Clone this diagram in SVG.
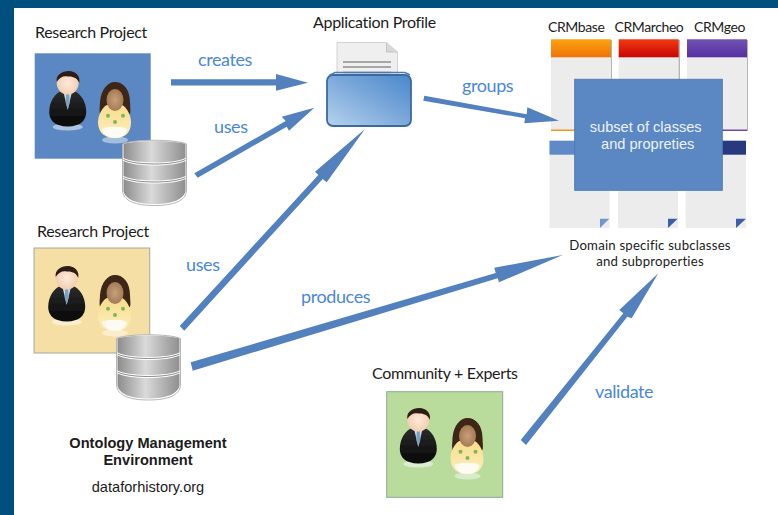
<svg xmlns="http://www.w3.org/2000/svg" width="778" height="515" viewBox="0 0 778 515">
<style>
.lb{font-family:"Lato","Noto Sans",sans-serif;font-size:16px;letter-spacing:-.32px;fill:#1c1c1c}
.sm{font-size:14px;letter-spacing:-.4px}
.dm{font-size:13.200px;letter-spacing:.2px}
.bl{font-family:"Lato","Noto Sans",sans-serif;font-size:18px;letter-spacing:-.4px;fill:#4a88d6}
.ar{font-family:"Liberation Sans",Arial,sans-serif;fill:#1c1c1c}
.arrow{fill:#5281bd}
.card{fill:#ececec}
</style>
<defs>
<filter id="soft" x="-10%" y="-10%" width="120%" height="120%"><feGaussianBlur stdDeviation="0.5"/></filter>
<linearGradient id="dbg" x1="0" x2="1" y1="0" y2="0"><stop offset="0" stop-color="#8c8c8c"/><stop offset=".45" stop-color="#dadada"/><stop offset="1" stop-color="#8f8f8f"/></linearGradient>
<linearGradient id="suit" x1="0" x2="0" y1="0" y2="1"><stop offset="0" stop-color="#2c2c2c"/><stop offset="1" stop-color="#060606"/></linearGradient>
<radialGradient id="skin"><stop offset="0" stop-color="#fdeadb"/><stop offset="1" stop-color="#f3cfb2"/></radialGradient>
<radialGradient id="skin2"><stop offset="0" stop-color="#c9a078"/><stop offset="1" stop-color="#a37a56"/></radialGradient>
<linearGradient id="blouse" x1="0" x2="0" y1="0" y2="1"><stop offset="0" stop-color="#f7dc8c"/><stop offset="1" stop-color="#fdf0c0"/></linearGradient>
<linearGradient id="fold" x1="0" x2="1" y1="1" y2="0"><stop offset="0" stop-color="#b5d3ee"/><stop offset=".5" stop-color="#7eaadb"/><stop offset="1" stop-color="#4a87cb"/></linearGradient>
<linearGradient id="orange" x1="0" x2="0" y1="0" y2="1"><stop offset="0" stop-color="#ffa20f"/><stop offset="1" stop-color="#ee7408"/></linearGradient>
<linearGradient id="red" x1="0" x2="0" y1="0" y2="1"><stop offset="0" stop-color="#f23a12"/><stop offset="1" stop-color="#c80404"/></linearGradient>
<linearGradient id="purple" x1="0" x2="0" y1="0" y2="1"><stop offset="0" stop-color="#7152b4"/><stop offset="1" stop-color="#5430a0"/></linearGradient>
<g id="man" filter="url(#soft)">
<ellipse cx="0" cy="44" rx="15" ry="3.500" fill="#fff" opacity=".5"/>
<path d="M-6 8C-13 10-18.500 19-18.500 29C-18.500 37-13 41-9 42C-3 44 3 44 9 42C13 41 18.500 37 18.500 29C18.500 19 13 10 6 8Z" fill="url(#suit)"/>
<path d="M-4 10L0 27L4 10Z" fill="#c8dbe8"/>
<path d="M-1.500 11L1.500 11L2 20L0 26L-2 20Z" fill="#7d9fc0"/>
<ellipse cx="0" cy="0" rx="11" ry="11.500" fill="url(#skin)"/>
<path d="M-11-1C-12-8-6-12 1-12C8-12 13-7 11.500 0C10-5 5-7 0-6.500C-4-7.500-8-6-11-1Z" fill="#2f1a12"/>
</g>
<g id="woman" filter="url(#soft)">
<ellipse cx="1" cy="40" rx="13" ry="3.500" fill="#fff" opacity=".45"/>
<path d="M-14 2C-13-11-6-18 1-18C9-18 16-11 16 2C16 7 17 10 16 14L-14 14C-15 10-14 6-14 2Z" fill="#3e2517"/>
<path d="M-7 5C-12 7-16 16-16 22C-16 34-8 38 1 38C10 38 17 34 17 22C17 16 13 7 8 5Z" fill="url(#blouse)"/>
<path d="M-12 29C-10 35-5 38 1 38C7 38 12 35 13 29C8 26-7 26-12 29Z" fill="#fdfbf2"/>
<ellipse cx="1" cy="0" rx="8.500" ry="11" fill="url(#skin2)"/>
<g fill="#7fb65a"><circle cx="-6" cy="15.700" r="2"/><circle cx="9" cy="15.700" r="2"/><circle cx="1" cy="22" r="2"/></g>
</g>
<g id="db">
<path d="M1 5C12 0 54 0 65 5L65 52C64 62 52 66.500 33 66.500C14 66.500 2 62 1 52Z" fill="#fff" stroke="#b5b5b5"/>
<path d="M2 5C14 1 52 1 64 5L64 19C52 25 14 25 2 19Z" fill="url(#dbg)"/>
<path d="M2 22C14 28 52 28 64 22L64 37C52 43 14 43 2 37Z" fill="url(#dbg)"/>
<path d="M2 40C14 46 52 46 64 40L64 52C62 61 50 65 33 65C16 65 4 61 2 52Z" fill="url(#dbg)"/>
<path d="M2 20.500C14 26.500 52 26.500 64 20.500M2 38.500C14 44.500 52 44.500 64 38.500" fill="none" stroke="#6d6d6d" stroke-width=".8"/>
</g>
</defs>
<rect width="778" height="515" fill="#fff"/>
<rect width="778" height="8" fill="#00507f"/>
<rect width="14" height="515" fill="#00507f"/>

<g id="research-project-1">
<text class="lb" x="35" y="38">Research Project</text>
<rect x="34.700" y="53.300" width="116" height="105.400" fill="#5b88c2"/>
<use href="#man" x="67.700" y="83"/>
<use href="#woman" x="114" y="100"/>
<use href="#db" x="121.500" y="139"/>
</g>
<g id="research-project-2">
<text class="lb" x="37" y="237">Research Project</text>
<rect x="34" y="248" width="115.700" height="105" fill="#f5dfa5" stroke="#a5a5a0"/>
<use href="#man" x="66.700" y="278"/>
<use href="#woman" x="114" y="293"/>
<use href="#db" x="115.500" y="333.500"/>
</g>
<g id="community-experts">
<text class="lb" x="372" y="379">Community + Experts</text>
<rect x="386.700" y="391.700" width="116" height="105.600" fill="#b9dc9c" stroke="#8ea894"/>
<use href="#man" x="418.300" y="420"/>
<use href="#woman" x="466.500" y="436"/>
</g>
<g id="application-profile">
<text class="lb" x="313" y="28">Application Profile</text>
<path d="M337 42.500L386.500 42.500L397.500 52L397.500 76L337 76Z" fill="#efefef" stroke="#d2d2d2"/>
<path d="M386.500 42.500L386.500 52L397.500 52" fill="#d8d8d8" stroke="#c4c4c4"/>
<path d="M343 62H391M343 67H391M343 72.500H391" stroke="#8f8f8f" stroke-width="1.400"/>
<rect x="327" y="75" width="84" height="51" rx="6" fill="url(#fold)" stroke="#3c6a9c" stroke-width="1.800"/>
<path d="M329 75.500L335 72.500L405 72.500L410 75" fill="none" stroke="#4b7cb3" stroke-width="1.500"/>
</g>
<g id="crm-cards">
<text class="lb sm" x="548" y="32">CRMbase</text>
<text class="lb sm" x="614.500" y="32">CRMarcheo</text>
<text class="lb sm" x="694" y="32">CRMgeo</text>
<rect x="552" y="40" width="60" height="91" fill="#b5b5b5"/>
<rect x="620" y="40" width="60" height="91" fill="#b5b5b5"/>
<rect x="688" y="40" width="60" height="91" fill="#b5b5b5"/>
<rect x="551" y="39.300" width="60" height="91" class="card"/>
<rect x="618.700" y="39.300" width="60" height="91" class="card"/>
<rect x="687" y="39.300" width="60" height="91" class="card"/>
<rect x="551" y="39.300" width="60" height="18" fill="url(#orange)"/>
<rect x="618.700" y="39.300" width="60" height="18" fill="url(#red)"/>
<rect x="687" y="39.300" width="60" height="18" fill="url(#purple)"/>
<rect x="551" y="129.500" width="60" height="1.500" fill="#ee9a20"/>
<rect x="687" y="129.500" width="60" height="1.500" fill="#6a4bb0"/>
<rect x="549.500" y="140.700" width="60" height="87.300" class="card"/>
<rect x="618" y="140.700" width="60" height="87.300" class="card"/>
<rect x="685.700" y="140.700" width="60.300" height="87.300" class="card"/>
<rect x="549.500" y="140.700" width="60" height="14" fill="#5f8ac8"/>
<rect x="685.700" y="140.700" width="60.300" height="14" fill="#27397f"/>
<path d="M600 218.700H609.300L600 228Z" fill="#6f97cf"/>
<path d="M668 218.700H677.700L668 228Z" fill="#3a5ea8"/>
<path d="M736 218.700H746L736 228Z" fill="#3a5ea8"/>
<text class="lb dm" text-anchor="middle" x="650" y="250.300">Domain specific subclasses</text>
<text class="lb dm" text-anchor="middle" x="650" y="266.300">and subproperties</text>
</g>
<g id="subset-box">
<rect x="574.700" y="79.300" width="147.600" height="111" fill="#5b88c2" stroke="#507cb2"/>
<text class="ar" text-anchor="middle" x="645.700" y="132" style="font-size:14.600px;fill:#edf2f8">subset of classes</text>
<text class="ar" text-anchor="middle" x="647.700" y="149" style="font-size:14.600px;fill:#edf2f8">and propreties</text>
</g>
<g id="connectors">
<polygon class="arrow" points="171,79.300 276,79.300 276,74 308,82.700 276,90.700 276,85.500 171,85.500"/>
<polygon class="arrow" points="194.300,173.300 285.700,121 281.700,116.700 314.300,107.700 289,130.700 286.700,126.700 197.700,177.700"/>
<polygon class="arrow" points="179.700,326 318.300,175 315,171.700 365,129 326.700,182.300 322.700,179 184.300,330.700"/>
<polygon class="arrow" points="190.700,362.300 495.700,273 494.300,267.700 562.700,255 499,282.300 497.700,278.300 192.700,370.700"/>
<polygon class="arrow" points="520.700,440 623.300,313.300 619.300,310 658.300,273.300 631.700,318.300 627.300,316.700 526,445"/>
<polygon class="arrow" points="424.300,95.700 526.700,114.300 527.300,107.300 559,120.700 524.300,123.300 525,118.300 423.300,100.700"/>
</g>
<g id="connector-labels">
<text class="bl" x="198" y="66">creates</text>
<text class="bl" x="214" y="133">uses</text>
<text class="bl" x="186" y="270.500">uses</text>
<text class="bl" x="462" y="92">groups</text>
<text class="bl" x="301" y="303">produces</text>
<text class="bl" x="595" y="398">validate</text>
</g>
<g id="ome-caption">
<text class="ar" text-anchor="middle" x="148" y="447.500" style="font-size:14.600px;font-weight:bold">Ontology Management</text>
<text class="ar" text-anchor="middle" x="148" y="464.500" style="font-size:14.600px;font-weight:bold">Environment</text>
<text class="ar" text-anchor="middle" x="148" y="492" style="font-size:14.600px">dataforhistory.org</text>
</g>
</svg>
